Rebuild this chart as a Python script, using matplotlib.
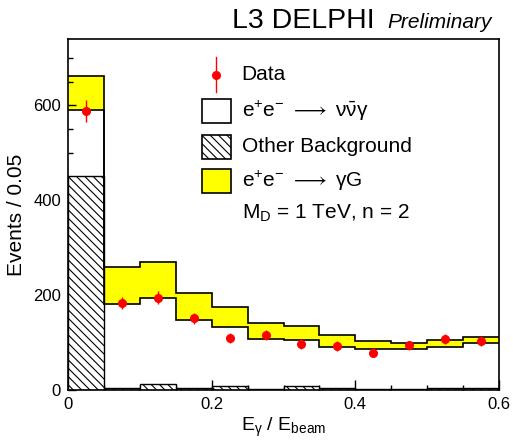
import numpy as np
import matplotlib
matplotlib.use("Agg")
from matplotlib import pyplot as plt
from matplotlib.patches import Rectangle
from matplotlib.lines import Line2D
from matplotlib.ticker import MultipleLocator, FuncFormatter

plt.rcParams['font.family'] = ['Liberation Sans', 'DejaVu Sans']
plt.rcParams['mathtext.fontset'] = 'custom'
plt.rcParams['mathtext.rm'] = 'Liberation Sans'
plt.rcParams['mathtext.it'] = 'Liberation Sans:italic'
plt.rcParams['hatch.linewidth'] = 0.8

# bin edges in E_gamma / E_beam
edges = np.linspace(0.0, 0.6, 13)

# stacked levels (cumulative): other bkg, + nunu gamma, + gamma G signal
other_bkg = [451, 4, 12, 4, 8, 3, 9, 4, 3, 3, 5, 5]
nunu_top = [590, 181, 195, 148, 132, 108, 105, 91, 86, 86, 91, 100]
signal_top = [662, 259, 269, 204, 176, 142, 134, 115, 104, 100, 105, 112]

# data points
data_y = [588, 183, 195, 151, 110, 116, 97, 93, 79, 94, 107, 103]
data_err = [24, 13, 14, 12, 10.5, 11, 10, 10, 9, 10, 10, 10]

centers = 0.5 * (edges[:-1] + edges[1:])
width = edges[1] - edges[0]

fig = plt.figure(figsize=(5.13, 4.45), dpi=100)
ax = fig.add_axes([0.1326, 0.1236, 0.9727 - 0.1326, 0.9124 - 0.1236])

# yellow signal band on top of the nunu gamma histogram
ax.stairs(signal_top, edges, baseline=nunu_top, fill=True,
          facecolor='#ffff00', edgecolor='none', zorder=1)
ax.stairs(signal_top, edges, baseline=None, color='black', lw=1.2, zorder=3)
ax.stairs(nunu_top, edges, baseline=None, color='black', lw=1.2, zorder=3)

# other background, hatched
ax.bar(centers, other_bkg, width=width, facecolor='white', edgecolor='black',
       hatch='\\\\\\\\', linewidth=1.0, zorder=2)

# data
ax.errorbar(centers, data_y, yerr=data_err, fmt='o', color='red',
            markersize=5.5, elinewidth=1.0, capsize=0, zorder=5)

ax.set_xlim(0, 0.6)
ax.set_ylim(0, 740)
ax.xaxis.set_major_locator(MultipleLocator(0.2))
ax.xaxis.set_minor_locator(MultipleLocator(0.05))
ax.yaxis.set_major_locator(MultipleLocator(200))
ax.yaxis.set_minor_locator(MultipleLocator(50))
ax.xaxis.set_major_formatter(FuncFormatter(
    lambda v, p: '0' if abs(v) < 1e-9 else ('%g' % v)))
ax.tick_params(axis='both', which='both', direction='in', top=False, right=False,
               labelsize=12, pad=5, width=1.0)
ax.tick_params(axis='x', which='major', length=7.5)
ax.tick_params(axis='x', which='minor', length=3.5)
ax.tick_params(axis='y', which='major', length=6)
ax.tick_params(axis='y', which='minor', length=3.5)
for s in ax.spines.values():
    s.set_linewidth(1.2)
    s.set_zorder(6)

ax.set_xlabel(r'E$_\mathrm{\gamma}$ / E$_{\mathrm{beam}}$', fontsize=14, labelpad=3)
ax.set_ylabel('Events / 0.05', fontsize=15, labelpad=5)

# title
fig.text(0.731, 0.937, 'L3 DELPHI', fontsize=20.5, ha='right', va='baseline')
fig.text(0.958, 0.937, 'Preliminary', fontsize=15, style='italic',
         ha='right', va='baseline')

# legend drawn by hand
bx0, bw, bh = 0.31, 0.069, 0.068
tx = 0.403
rows = [0.898, 0.796, 0.693, 0.596, 0.503]
ax.add_line(Line2D([bx0 + bw / 2] * 2, [rows[0] - 0.05, rows[0] + 0.05],
                   color='red', lw=1.0, transform=ax.transAxes, zorder=7))
ax.add_line(Line2D([bx0 + bw / 2], [rows[0]], marker='o', color='red',
                   markersize=5.5, transform=ax.transAxes, zorder=7))
ax.add_patch(Rectangle((bx0, rows[1] - bh / 2), bw, bh, transform=ax.transAxes,
                       facecolor='white', edgecolor='black', lw=1.2, zorder=7))
ax.add_patch(Rectangle((bx0, rows[2] - bh / 2), bw, bh, transform=ax.transAxes,
                       facecolor='white', edgecolor='black', lw=1.2,
                       hatch='\\\\\\\\', zorder=7))
ax.add_patch(Rectangle((bx0, rows[3] - bh / 2), bw, bh, transform=ax.transAxes,
                       facecolor='#ffff00', edgecolor='black', lw=1.2, zorder=7))
labels = ['Data',
          r'e$^{+}$e$^{-}$ $\longrightarrow$ $\mathrm{\nu\bar{\nu}\gamma}$',
          'Other Background',
          r'e$^{+}$e$^{-}$ $\longrightarrow$ $\mathrm{\gamma}$G',
          r'M$_{\mathrm{D}}$ = 1 TeV, n = 2']
for y, lab in zip(rows, labels):
    ax.text(tx, y, lab, fontsize=15, ha='left', va='center',
            transform=ax.transAxes, zorder=7)

fig.savefig('out.png', dpi=100)
